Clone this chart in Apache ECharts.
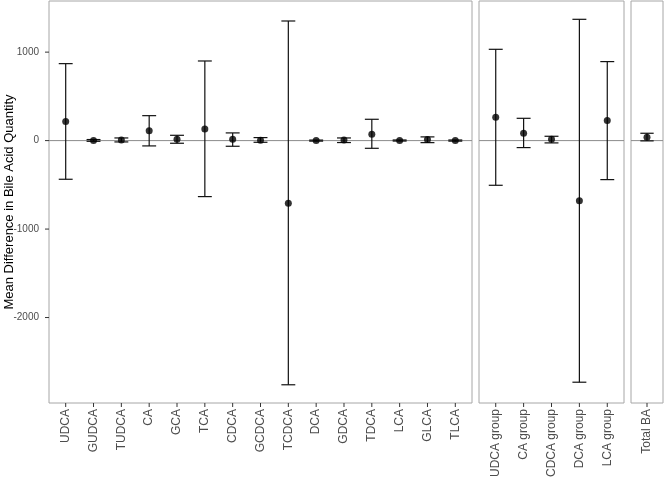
<!DOCTYPE html>
<html>
<head>
<meta charset="utf-8">
<script src="https://cdn.jsdelivr.net/npm/echarts@6/dist/echarts.min.js"></script>
<style>html,body{margin:0;padding:0;background:#fff}#c{width:665px;height:480px}</style>
</head>
<body>
<div id="c"></div>
<script>
// ---- data ----
const cats1 = ['UDCA','GUDCA','TUDCA','CA','GCA','TCA','CDCA','GCDCA','TCDCA','DCA','GDCA','TDCA','LCA','GLCA','TLCA'];
const mean1 = [215, 2, 8, 110, 14, 132, 15, 5, -708, 0, 6, 71, 1, 12, 1];
const low1  = [-437, -8, -15, -60, -30, -633, -64, -19, -2760, -6, -22, -87, -5, -23, -6];
const high1 = [870, 12, 30, 282, 60, 900, 87, 34, 1352, 6, 30, 241, 7, 42, 7];

const cats2 = ['UDCA group','CA group','CDCA group','DCA group','LCA group'];
const mean2 = [264, 83, 16, -681, 226];
const low2  = [-505, -79, -26, -2731, -441];
const high2 = [1032, 252, 49, 1371, 893];

const cats3 = ['Total BA'];
const mean3 = [37];
const low3  = [-3];
const high3 = [83];

const yTicks = [-2000, -1000, 0, 1000];
const yTitle = 'Mean Difference in Bile Acid Quantity';

// ---- chart ----
const chart = echarts.init(document.getElementById('c'), null, {renderer: 'canvas'});
const yMin = -2966, yMax = 1578;
const FONT = 'Liberation Sans, Arial, sans-serif';
const BORDER = '#a6a6a6';
const TICK = '#333333';

const grids = [
  {left: 49, top: 1, width: 423, bottom: 77},
  {left: 479, top: 1, width: 145, bottom: 77},
  {left: 631, top: 1, width: 32, bottom: 77}
].map(g => Object.assign(g, {show: true, borderColor: BORDER, borderWidth: 1, backgroundColor: 'transparent', containLabel: false, outerBoundsMode: 'none'}));

const panels = [[cats1, mean1, low1, high1], [cats2, mean2, low2, high2], [cats3, mean3, low3, high3]];

const xAxes = panels.map((p, i) => {
  const names = p[0];
  const idx = names.map((_, k) => k);
  return {
    type: 'value', gridIndex: i, min: -0.6, max: names.length - 1 + 0.6,
    position: 'bottom',
    splitLine: {show: false},
    axisLine: {show: false, onZero: false},
    axisTick: {show: false},
    axisLabel: {customValues: idx, rotate: 90, margin: 6, fontSize: 12, color: '#4d4d4d', fontFamily: FONT,
      formatter: v => names[Math.round(v)]}
  };
});

const yAxes = panels.map((p, i) => ({
  type: 'value', gridIndex: i, min: yMin, max: yMax,
  position: 'left',
  splitLine: {show: false},
  axisLine: {show: false, onZero: false},
  axisTick: {show: false},
  axisLabel: {show: i === 0, customValues: yTicks, fontSize: 10, color: '#4d4d4d', fontFamily: FONT, margin: 10,
    formatter: v => String(v)},
  name: i === 0 ? yTitle : '',
  nameLocation: 'middle', nameGap: 33, nameRotate: 90, nameMoveOverlap: false,
  nameTextStyle: {fontSize: 13, color: '#000', fontFamily: FONT}
}));

const series = [];
panels.forEach((p, i) => {
  const [names, mean, low, high] = p;
  // zero reference line
  series.push({
    type: 'line', xAxisIndex: i, yAxisIndex: i, silent: true,
    data: [[-0.6, 0], [names.length - 1 + 0.6, 0]],
    symbol: 'none', lineStyle: {color: '#8c8c8c', width: 1}, z: 1
  });
  // x-axis tick marks (placed through the axis scale)
  series.push({
    type: 'custom', xAxisIndex: i, yAxisIndex: i, silent: true, clip: false, z: 4,
    data: names.map((_, k) => [k, yMin]),
    renderItem: (params, api) => {
      const pt = api.coord([api.value(0), api.value(1)]);
      return {type: 'line', shape: {x1: pt[0], y1: pt[1], x2: pt[0], y2: pt[1] + 4},
        style: {stroke: TICK, lineWidth: 1}};
    }
  });
  // error bars
  series.push({
    type: 'custom', xAxisIndex: i, yAxisIndex: i, silent: true, z: 2,
    data: names.map((_, k) => [k, low[k], high[k]]),
    renderItem: (params, api) => {
      const x = api.value(0);
      const lo = api.coord([x, api.value(1)]);
      const hi = api.coord([x, api.value(2)]);
      const l = api.coord([x - 0.25, 0])[0];
      const r = api.coord([x + 0.25, 0])[0];
      const style = {stroke: '#111', lineWidth: 1.2, fill: null};
      return {type: 'group', children: [
        {type: 'line', shape: {x1: lo[0], y1: lo[1], x2: hi[0], y2: hi[1]}, style},
        {type: 'line', shape: {x1: l, y1: lo[1], x2: r, y2: lo[1]}, style},
        {type: 'line', shape: {x1: l, y1: hi[1], x2: r, y2: hi[1]}, style}
      ]};
    }
  });
  // points
  series.push({
    type: 'scatter', xAxisIndex: i, yAxisIndex: i, z: 3,
    data: names.map((_, k) => [k, mean[k]]),
    symbol: 'circle', symbolSize: 7, itemStyle: {color: '#000'}
  });
});

// y-axis tick marks for the first panel
series.push({
  type: 'custom', xAxisIndex: 0, yAxisIndex: 0, silent: true, clip: false, z: 4,
  data: yTicks.map(v => [-0.6, v]),
  renderItem: (params, api) => {
    const pt = api.coord([api.value(0), api.value(1)]);
    return {type: 'line', shape: {x1: pt[0] - 4, y1: pt[1], x2: pt[0], y2: pt[1]},
      style: {stroke: TICK, lineWidth: 1}};
  }
});

chart.setOption({
  animation: false,
  backgroundColor: '#fff',
  grid: grids,
  xAxis: xAxes,
  yAxis: yAxes,
  series: series
});
</script>
</body>
</html>
